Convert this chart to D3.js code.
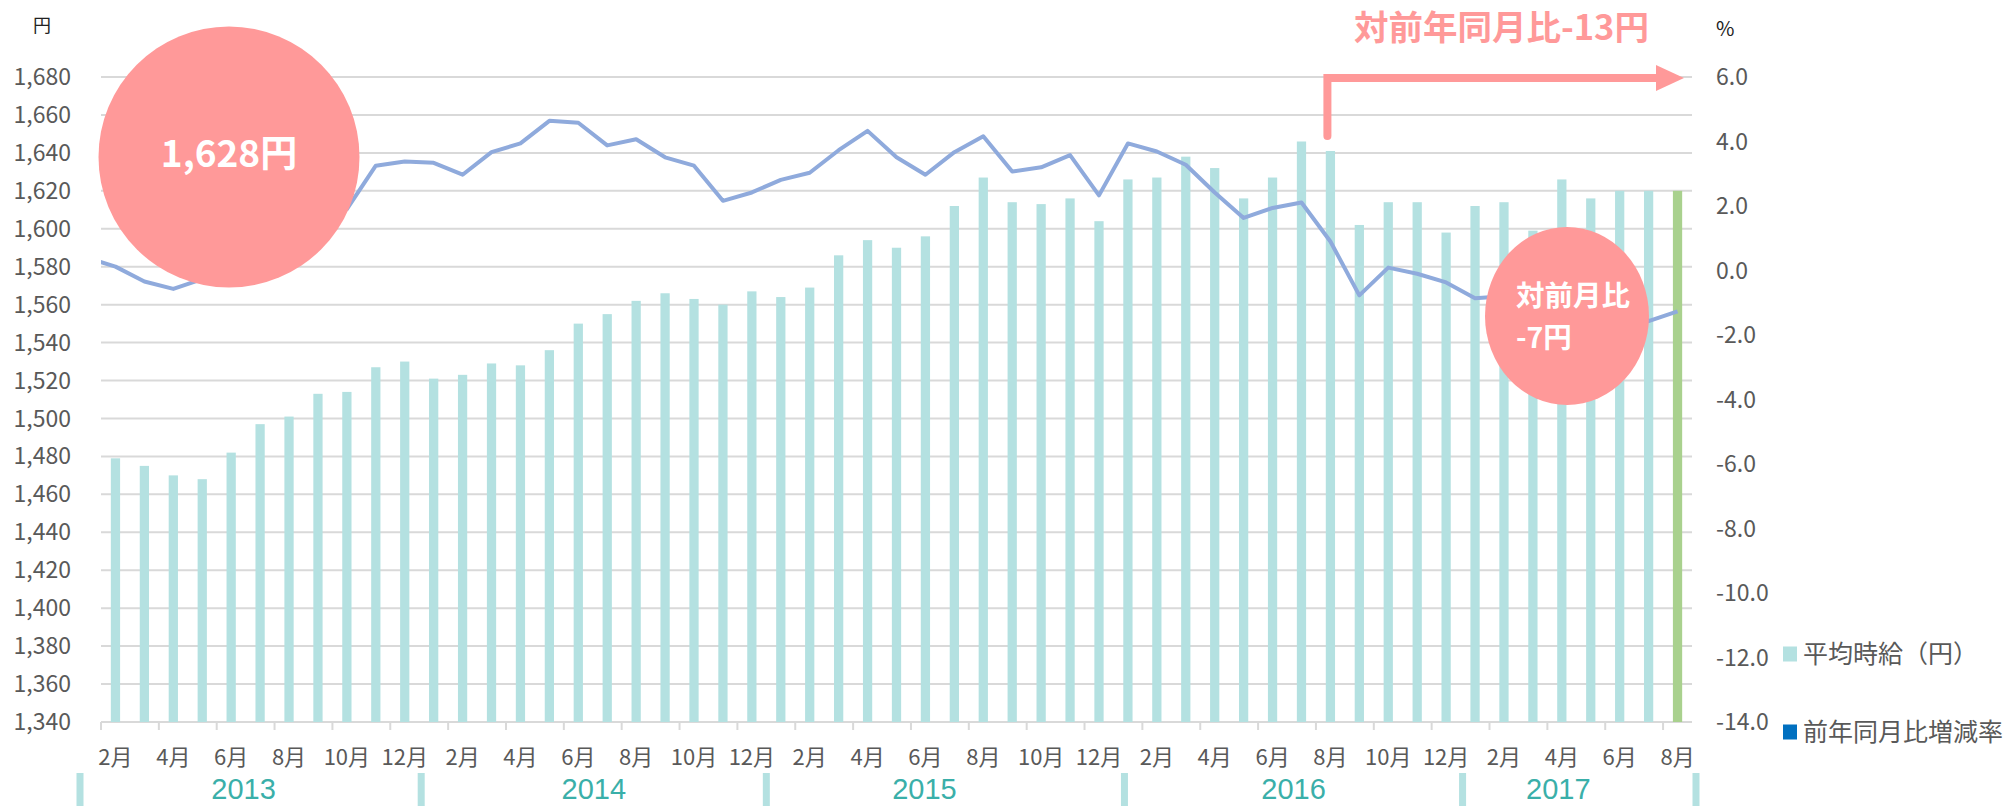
<!DOCTYPE html>
<html><head><meta charset="utf-8">
<script src="https://cdn.jsdelivr.net/npm/d3@7"></script>
<style>
body{margin:0;background:#fff;}
svg{display:block;font-family:"Noto Sans CJK JP","Noto Sans",sans-serif;}
</style>
</head><body>
<svg id="c" width="2013" height="806"></svg>
<script>
// ---- data ----
const months = [
  "2月","3月","4月","5月","6月","7月","8月","9月","10月","11月","12月",
  "1月","2月","3月","4月","5月","6月","7月","8月","9月","10月","11月","12月",
  "1月","2月","3月","4月","5月","6月","7月","8月","9月","10月","11月","12月",
  "1月","2月","3月","4月","5月","6月","7月","8月","9月","10月","11月","12月",
  "1月","2月","3月","4月","5月","6月","7月","8月"
];
const years = ["2013","2014","2015","2016","2017"];
const yearMonthCounts = [11,12,12,12,8];
const wage = [
  1479,1475,1470,1468,1482,1497,1501,1513,1514,1527,1530,
  1521,1523,1529,1528,1536,1550,1555,1562,1566,1563,1560,1567,
  1564,1569,1586,1594,1590,1596,1612,1627,1614,1613,1616,1604,
  1626,1627,1638,1632,1616,1627,1646,1641,1602,1614,1614,1598,
  1612,1614,1599,1626,1616,1620,1620,1620
];
// 前年同月比増減率 (%) ; yoyPrev belongs to 2013年1月 (just left of the plot, clipped)
const yoyPrev = 0.4;
const yoyRate = [
  0.12,-0.34,-0.57,-0.27,0.2,0.7,1.1,1.5,1.9,3.25,3.38,
  3.34,2.97,3.67,3.94,4.64,4.58,3.88,4.07,3.51,3.25,2.16,2.42,
  2.81,3.03,3.73,4.33,3.51,2.97,3.67,4.16,3.07,3.20,3.58,2.33,
  3.94,3.69,3.28,2.42,1.63,1.94,2.11,0.90,-0.77,0.09,-0.10,-0.37,
  -0.86,-0.80,-2.38,-0.37,0.00,-0.43,-1.57,-1.27
];
const leftTicks = d3.range(1340, 1681, 20);
const rightTicks = d3.range(-14, 6.01, 2);
const legendLabels = ["平均時給（円）","前年同月比増減率"];

// ---- layout ----
const svg = d3.select("#c");
const m = {left:101, right:1692, top:77, bottom:722};
const barColor = "#b4e1e1", lastColor = "#a9d18e", lineColor = "#8faadc", pink = "#ff9999";
const txt = "#595959";

const x = d3.scaleBand().domain(d3.range(months.length)).range([m.left, m.right])
  .paddingInner(0.68).paddingOuter(0.34);
const step = x.step(), bw = x.bandwidth();
const cx = i => x(0) + bw/2 + i*step;
const edge = k => x(0) - x.paddingOuter()*step + k*step;
const yL = d3.scaleLinear().domain([1340,1680]).range([m.bottom, m.top]);
const yR = d3.scaleLinear().domain([-14,6]).range([m.bottom, m.top]);

// gridlines
svg.append("g").selectAll("line").data(leftTicks).join("line")
  .attr("x1", m.left).attr("x2", m.right)
  .attr("y1", d=>yL(d)).attr("y2", d=>yL(d))
  .attr("stroke", "#d9d9d9").attr("stroke-width", 2);

// category tick marks
const tickIdx = d3.range(0, months.length, 2);
svg.append("g").selectAll("line").data(tickIdx).join("line")
  .attr("x1", d=>edge(d)).attr("x2", d=>edge(d))
  .attr("y1", m.bottom).attr("y2", m.bottom+8)
  .attr("stroke", "#d9d9d9").attr("stroke-width", 2);

// bars
svg.append("g").selectAll("rect").data(wage).join("rect")
  .attr("x", (d,i)=>x(i)).attr("width", bw)
  .attr("y", d=>yL(d)).attr("height", d=>yL(1340)-yL(d))
  .attr("fill", (d,i)=> i===wage.length-1 ? lastColor : barColor);

// line (clipped to plot)
svg.append("clipPath").attr("id","plotclip").append("rect")
  .attr("x", m.left).attr("y", 0).attr("width", m.right-m.left).attr("height", m.bottom);
const pts = [{i:-1, v:yoyPrev}].concat(yoyRate.map((v,i)=>({i, v})));
svg.append("path").datum(pts)
  .attr("clip-path","url(#plotclip)")
  .attr("d", d3.line().x(d=>cx(d.i)).y(d=>yR(d.v)))
  .attr("fill","none").attr("stroke", lineColor).attr("stroke-width", 4)
  .attr("stroke-linejoin","round");

// left axis labels
svg.append("g").selectAll("text").data(leftTicks).join("text")
  .attr("x", 71).attr("y", d=>yL(d)).attr("dy","0.35em")
  .attr("text-anchor","end").attr("font-size", 23).attr("fill", txt)
  .text(d=>d3.format(",")(d));
// right axis labels
svg.append("g").selectAll("text").data(rightTicks).join("text")
  .attr("x", 1716).attr("y", d=>yR(d)).attr("dy","0.35em")
  .attr("text-anchor","start").attr("font-size", 23).attr("fill", txt)
  .text(d=>d.toFixed(1));
// unit labels
svg.append("text").attr("x", 42).attr("y", 26).attr("dy","0.35em").attr("text-anchor","middle")
  .attr("font-size", 18).attr("fill","#222").text("円");
svg.append("text").attr("x", 1716).attr("y", 29).attr("dy","0.35em")
  .attr("font-size", 20).attr("fill","#222").text("%");

// month labels
svg.append("g").selectAll("text").data(tickIdx).join("text")
  .attr("x", d=>cx(d)).attr("y", 757).attr("dy","0.35em")
  .attr("text-anchor","middle").attr("font-size", 22).attr("fill", txt)
  .text(d=>months[d]);

// year row (multi-level category labels)
const bounds = [0].concat(Array.from(d3.cumsum(yearMonthCounts)));
const divShift = [-21, 2, 0, 11, 2, 4];
const labelShift = [-7, 0, -21, 0, -21];
const divX = bounds.map((k,j)=> edge(k) + divShift[j]);
svg.append("g").selectAll("rect").data(divX).join("rect")
  .attr("x", d=>d-3.5).attr("width", 7).attr("y", 773).attr("height", 33)
  .attr("fill", barColor);
svg.append("g").selectAll("text").data(years).join("text")
  .attr("x", (d,j)=>(divX[j]+divX[j+1])/2 + labelShift[j]).attr("y", 799)
  .attr("text-anchor","middle").attr("font-size", 29).attr("fill","#3aafa9")
  .attr("font-family","'Liberation Sans',Arial,sans-serif")
  .text(d=>d);

// legend
const legColors = [barColor, "#0070c0"];
const legY = [654, 732];
legendLabels.forEach((l,j)=>{
  svg.append("rect").attr("x",1783).attr("y",legY[j]-7.5).attr("width",14).attr("height",15).attr("fill",legColors[j]);
  svg.append("text").attr("x",1803).attr("y",legY[j]).attr("dy","0.35em")
    .attr("font-size",25).attr("fill",txt).text(l);
});

// annotations
svg.append("circle").attr("cx",229).attr("cy",157).attr("r",130.5).attr("fill",pink);
svg.append("text").attr("x",229).attr("y",154).attr("dy","0.35em").attr("text-anchor","middle")
  .attr("font-size",37).attr("font-weight","bold").attr("fill","#fff").text("1,628円");

svg.append("ellipse").attr("cx",1567).attr("cy",316).attr("rx",82).attr("ry",89).attr("fill",pink);
const t2 = svg.append("text").attr("font-size",28.5).attr("font-weight","bold").attr("fill","#fff");
t2.append("tspan").attr("x",1516).attr("y",296).attr("dy","0.35em").text("対前月比");
t2.append("tspan").attr("x",1516).attr("y",338).attr("dy","0.35em").text("-7円");

const ax = cx(42) - 3;
svg.append("path").attr("d",`M${ax},136 V78 H1662`)
  .attr("fill","none").attr("stroke",pink).attr("stroke-width",8)
  .attr("stroke-linecap","round").attr("stroke-linejoin","miter");
svg.append("path").attr("d","M1656,65 L1684,78 L1656,91 Z").attr("fill",pink);
svg.append("text").attr("x",1354).attr("y",40)
  .attr("font-size",34.5).attr("font-weight","bold").attr("fill",pink).text("対前年同月比-13円");
</script>
</body></html>
